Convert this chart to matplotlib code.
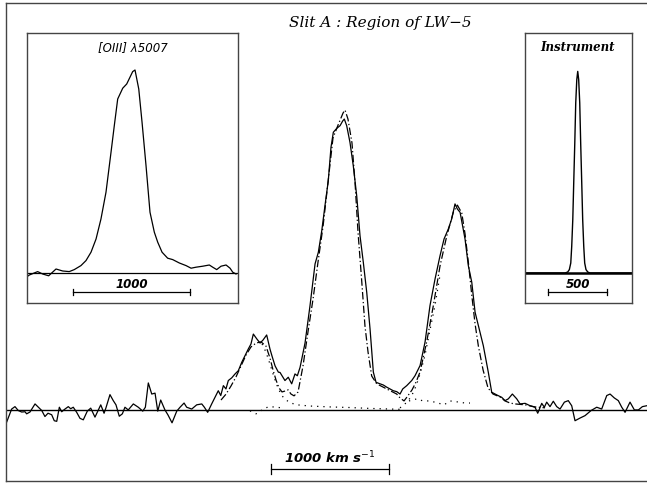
import numpy as np
import matplotlib
matplotlib.use('Agg')
import matplotlib.pyplot as plt

# main spectrum: velocity (km/s) relative to the brightest peak, flux scaled so fit peak = 100
vel_obs = [-2867, -2825, -2797, -2769, -2740, -2712, -2698, -2670, -2627, -2599,
           -2570, -2543, -2517, -2486, -2464, -2443, -2421, -2401, -2373, -2345,
           -2325, -2303, -2274, -2246, -2218, -2184, -2155, -2119, -2070, -2042,
           -2026, -1992, -1964, -1941, -1913, -1887, -1865, -1837, -1794, -1752,
           -1714, -1692, -1667, -1638, -1610, -1587, -1562, -1526, -1500, -1466,
           -1426, -1398, -1364, -1342, -1299, -1257, -1214, -1192, -1164, -1130,
           -1102, -1074, -1053, -1031, -1009, -989, -960, -932, -904, -875,
           -848, -820, -797, -777, -748, -720, -695, -664, -636, -619,
           -593, -565, -551, -509, -481, -452, -424, -404, -381, -339,
           -297, -254, -226, -197, -170, -142, -119, -99, -70, -42,
           -19, -6, 14, 42, 70, 99, 127, 155, 184, 212,
           240, 263, 297, 325, 353, 381, 409, 438, 466, 489,
           523, 565, 593, 636, 678, 720, 763, 805, 839, 875,
           904, 932, 952, 975, 1017, 1045, 1074, 1102, 1130, 1172,
           1214, 1243, 1286, 1328, 1356, 1384, 1418, 1455, 1483, 1526,
           1568, 1610, 1633, 1667, 1689, 1709, 1737, 1765, 1794, 1822,
           1859, 1892, 1921, 1949, 1992, 2034, 2085, 2133, 2175, 2218,
           2246, 2282, 2316, 2345, 2373, 2415, 2452, 2486, 2520, 2557]
flux_obs = [-4.0, 0.3, 1.1, -0.2, -0.7, -0.6, -1.3, -0.7, 2.0, 0.9,
            -0.2, -2.2, -1.1, -1.6, -3.6, -3.8, 0.9, -0.6, 0.3, 1.1,
            0.4, 0.9, -0.8, -2.8, -3.3, -0.4, 0.6, -2.4, 1.7, -1.1,
            0.7, 5.1, 3.1, 1.7, -2.1, -1.3, 0.9, 0.0, 2.0, 0.9,
            -0.4, 0.9, 9.0, 5.3, 5.6, -0.4, 3.3, 0.0, -1.7, -4.3,
            -0.4, 0.9, 2.3, 0.9, 0.3, 1.7, 2.0, 0.9, -0.8, 2.0,
            4.2, 6.4, 4.8, 8.1, 7.0, 9.8, 10.7, 12.0, 13.1, 15.9,
            18.1, 20.3, 22.0, 25.3, 23.7, 22.3, 23.3, 25.0, 20.3, 18.0,
            14.7, 12.6, 12.5, 9.8, 10.9, 8.7, 12.0, 11.4, 14.2, 22.3,
            34.7, 48.7, 52.6, 59.8, 68.1, 76.4, 87.6, 92.6, 93.9, 94.8,
            96.4, 97.0, 94.8, 89.2, 81.4, 71.4, 58.1, 49.2, 39.2, 27.0,
            12.6, 9.2, 8.7, 8.3, 7.6, 7.0, 6.4, 6.1, 5.3, 7.0,
            8.1, 9.8, 11.4, 14.8, 22.6, 34.8, 43.7, 51.4, 57.0, 60.3,
            63.7, 68.7, 67.0, 65.9, 57.0, 48.1, 42.6, 32.6, 28.1, 21.4,
            12.6, 5.9, 5.0, 4.2, 3.1, 3.7, 5.3, 3.7, 2.0, 2.2,
            1.4, 0.9, -1.1, 2.2, 0.9, 2.6, 1.1, 2.9, 1.1, 0.3,
            2.6, 3.1, 1.4, -3.6, -2.7, -1.9, -0.2, 0.9, 0.3, 4.8,
            5.3, 4.0, 3.1, 0.9, -0.8, 2.6, 0.0, 0.0, 1.1, 1.4]

# total fit (dash-dot)
vel_fit = [-1051, -1008, -966, -924, -881, -839, -797, -754, -712, -670,
           -636, -610, -585, -559, -534, -509, -483, -458, -432, -398,
           -356, -314, -271, -229, -186, -144, -102, -59, -17, 0,
           25, 59, 85, 110, 142, 169, 195, 226, 269, 353,
           438, 466, 500, 525, 568, 602, 636, 692, 748, 805,
           862, 918, 952, 989, 1017, 1045, 1074, 1102, 1130, 1170,
           1212, 1254, 1314, 1356, 1398, 1441, 1526, 1610, 1695]
flux_fit = [3.3, 5.3, 8.0, 11.0, 14.7, 18.3, 21.0, 22.3, 22.7, 21.3,
            17.3, 13.3, 10.0, 7.3, 6.0, 6.3, 6.7, 5.3, 4.7, 6.0,
            14.7, 26.0, 37.0, 49.3, 61.3, 76.0, 90.7, 95.0, 99.0, 100.0,
            97.0, 89.0, 75.7, 59.3, 42.7, 28.0, 19.3, 11.3, 8.7, 7.0,
            5.3, 4.0, 3.0, 4.3, 6.7, 9.3, 12.7, 22.7, 34.7, 48.0,
            58.0, 66.0, 68.3, 65.7, 58.7, 49.3, 38.3, 28.7, 21.3, 13.3,
            7.3, 5.3, 4.3, 3.0, 2.3, 2.0, 1.7, 1.0, 0.7]

# single components, dotted (only the parts that stand apart from the total)
vel_c1 = [-703, -670, -636, -602, -568, -534, -500, -458, -407, -297, -127, 42, 212, 381, 466]
flux_c1 = [22.0, 19.3, 15.3, 11.0, 7.3, 4.7, 3.3, 2.3, 1.7, 1.3, 1.0, 0.8, 0.5, 0.3, 0.2]
vel_c2 = [-805, -754, -703, -653, -593, -542]
flux_c2 = [-0.3, -1.3, 0.0, 1.0, 1.0, 0.7]
vel_c3 = [466, 500, 534, 568, 602, 636, 678, 720, 763, 805]
flux_c3 = [0.7, 1.7, 3.0, 5.0, 8.0, 12.0, 18.3, 26.7, 35.0, 45.0]
vel_c4 = [542, 610, 661, 720, 788, 839, 890, 949, 1017, 1059]
flux_c4 = [3.0, 3.7, 3.0, 3.0, 2.3, 1.7, 3.0, 2.7, 2.3, 2.3]

# inset: [OIII] 5007 profile
vel_oiii = [-932, -903, -832, -789, -738, -675, -618, -562, -519, -462,
            -419, -376, -333, -291, -248, -205, -177, -148, -105, -71,
            -43, -20, 0, 32, 60, 94, 128, 165, 194, 231,
            279, 322, 379, 436, 479, 521, 579, 635, 664, 698,
            735, 778, 812, 835, 863]
flux_oiii = [-2.2, -1.0, 0.7, -0.5, -1.4, 2.0, 1.0, 0.7, 1.7, 3.7,
             6.2, 10.4, 17.0, 27.0, 40.4, 60.4, 73.7, 87.0, 92.4, 94.5,
             97.9, 100.7, 101.5, 92.0, 75.4, 53.7, 30.4, 20.4, 15.4, 10.4,
             7.4, 6.7, 5.0, 3.7, 2.4, 2.9, 3.4, 4.0, 2.9, 1.7,
             3.4, 4.0, 2.4, 0.4, -0.5]

# inset: instrumental profile
vel_inst = [-447, -108, -85, -71, -59, -51, -42, -34, -25, -17, -8, 0,
            8, 17, 25, 34, 42, 51, 59, 70, 85, 104, 460]
flux_inst = [0, 0, 0.5, 1.7, 5.0, 13.3, 26.7, 45.0, 65.0, 85.0, 96.7, 100.8,
             96.7, 85.0, 65.0, 45.0, 26.7, 13.3, 5.0, 1.7, 0.5, 0, 0]

frame_col = '#444444'
dashdot = (0, (6, 2, 1, 2))
dots = (0, (1, 4))


def clean(a, sides=('left', 'top', 'bottom', 'right')):
    a.set_xticks([])
    a.set_yticks([])
    for s in ('left', 'top', 'bottom', 'right'):
        a.spines[s].set_visible(s in sides)
        a.spines[s].set_color(frame_col)
        a.spines[s].set_linewidth(1.0)


def scalebar(a, x0, x1, y, h, label, ylab, size):
    a.plot([x0, x1], [y, y], color='k', lw=0.9)
    a.plot([x0, x0], [y - h, y + h], color='k', lw=0.9)
    a.plot([x1, x1], [y - h, y + h], color='k', lw=0.9)
    a.text((x0 + x1) / 2, ylab, label, ha='center', va='center',
           fontsize=size, style='italic', fontweight='bold', family='DejaVu Sans')


fig = plt.figure(figsize=(6.47, 4.85), dpi=100)

ax = fig.add_axes([6/647, 3/485, 641/647, 478/485])
ax.plot(vel_obs, flux_obs, color='k', lw=0.9)
ax.plot(vel_fit, flux_fit, color='k', lw=0.9, ls=dashdot)
for v, f in [(vel_c1, flux_c1), (vel_c2, flux_c2), (vel_c3, flux_c3), (vel_c4, flux_c4)]:
    ax.plot(v, f, color='k', lw=0.9, ls=dots)
ax.axhline(0, color='k', lw=1.0)
ax.set_xlim(-2873, 2559)
ax.set_ylim(-23.7, 135.7)
clean(ax, sides=('left', 'top', 'bottom'))
scalebar(ax, -630, 370, -19.7, 1.7, r'1000 km s$^{-1}$', -15.6, 9.5)
fig.text(380/647, 1 - 23/485, 'Slit A : Region of LW\u22125', ha='center', va='center',
         fontsize=11, style='italic', family='DejaVu Serif')

ax1 = fig.add_axes([27/647, 181/485, 211/647, 270/485])
ax1.plot(vel_oiii, flux_oiii, color='k', lw=0.9)
ax1.axhline(0, color='k', lw=0.9)
ax1.set_xlim(-923, 880)
ax1.set_ylim(-15, 120)
clean(ax1)
scalebar(ax1, -530, 470, -9.5, 1.5, '1000', -5.3, 8.5)
ax1.text(-21, 113.3, '[OIII] \u03bb5007', ha='center', va='center', fontsize=8.5,
         style='italic', family='DejaVu Sans')

ax2 = fig.add_axes([525/647, 181/485, 107/647, 270/485])
ax2.plot(vel_inst, flux_inst, color='k', lw=1.0)
ax2.axhline(0, color='k', lw=1.8)
ax2.set_xlim(-447, 460)
ax2.set_ylim(-15, 120)
clean(ax2)
scalebar(ax2, -250, 250, -9.5, 1.5, '500', -5.3, 8.5)
ax2.text(0, 113.3, 'Instrument', ha='center', va='center', fontsize=8.5,
         style='italic', fontweight='bold', family='DejaVu Serif')

fig.savefig('out.png', dpi=100)
